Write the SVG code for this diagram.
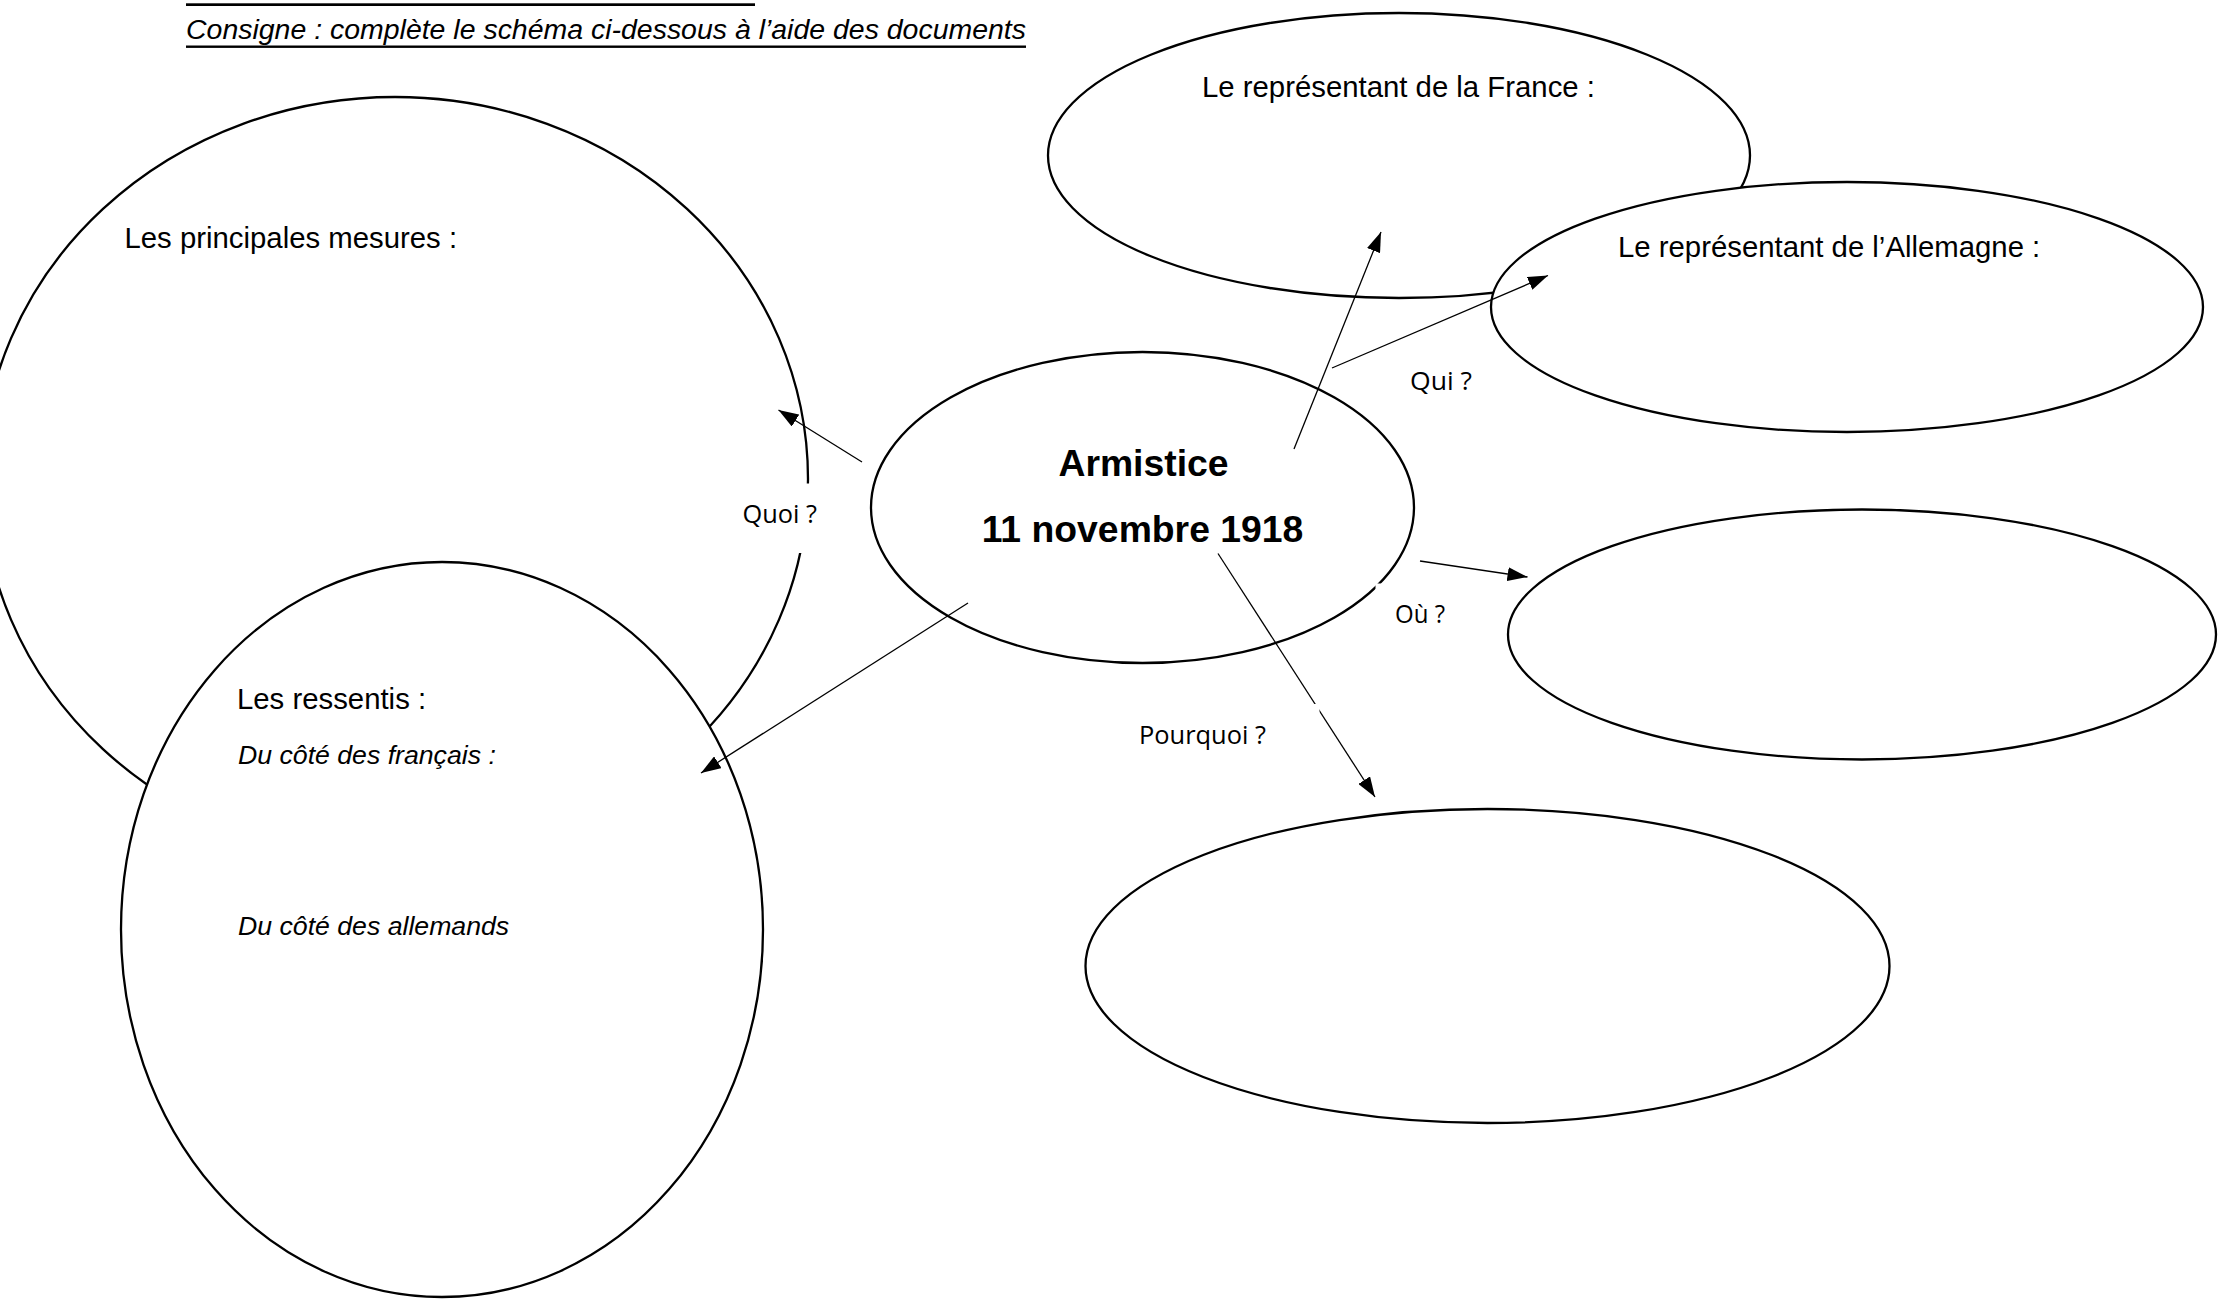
<svg xmlns="http://www.w3.org/2000/svg" width="2218" height="1299" viewBox="0 0 2218 1299">
<defs>
<style>
.node{fill:#fff;stroke:#000;stroke-width:2.3}
.t{font-family:"Liberation Sans",Arial,sans-serif;font-size:29.33px;fill:#000}
.ti{font-family:"Liberation Sans",Arial,sans-serif;font-size:26.67px;font-style:italic;fill:#000}
.tb{font-family:"Liberation Sans",Arial,sans-serif;font-size:37.33px;font-weight:bold;fill:#000}
.lab{font-family:"Open Sans","Noto Sans",sans-serif;font-size:25px;fill:#000}
.con{stroke:#000;stroke-width:1.3;fill:none;marker-end:url(#arr)}
.bg{fill:#fff;stroke:none}
</style>
<marker id="arr" viewBox="0 0 20 14" refX="20" refY="7" markerWidth="20" markerHeight="14" orient="auto" markerUnits="userSpaceOnUse">
<path d="M0,0 L20,7 L0,14 z" fill="#000"/>
</marker>
</defs>
<rect width="2218" height="1299" fill="#fff"/>
<g id="title">
<rect x="186" y="3.3" width="569" height="2.7" fill="#000"/>
<text x="186" y="38.5" font-family="Liberation Sans,Arial,sans-serif" font-size="27" font-style="italic" textLength="840" lengthAdjust="spacingAndGlyphs">Consigne : complète le schéma ci-dessous à l’aide des documents</text>
<rect x="186" y="45.5" width="840" height="2.4" fill="#000"/>
</g>
<g id="node-mesures">
<ellipse class="node" cx="395" cy="479" rx="413" ry="382"/>
<text class="t" x="124.5" y="248">Les principales mesures :</text>
</g>
<g id="node-ressentis">
<ellipse class="node" cx="442" cy="929.5" rx="321" ry="367.5"/>
<text class="t" x="237" y="709">Les ressentis :</text>
<text class="ti" x="238" y="763.5">Du côté des français :</text>
<text class="ti" x="238" y="934.5">Du côté des allemands</text>
</g>
<g id="node-france">
<ellipse class="node" cx="1399" cy="155.5" rx="351" ry="142.5"/>
<text class="t" x="1202" y="96.8">Le représentant de la France :</text>
</g>
<g id="node-allemagne">
<ellipse class="node" cx="1847" cy="307" rx="356" ry="125"/>
<text class="t" x="1618" y="256.5">Le représentant de l’Allemagne :</text>
</g>
<g id="node-ou">
<ellipse class="node" cx="1862" cy="634.5" rx="354" ry="125"/>
</g>
<g id="node-pourquoi">
<ellipse class="node" cx="1487.5" cy="966" rx="402" ry="157"/>
</g>
<g id="node-armistice">
<ellipse class="node" cx="1142.5" cy="507.5" rx="271.5" ry="155.5"/>
<text class="tb" x="1143.5" y="475.5" text-anchor="middle">Armistice</text>
<text class="tb" x="1142.5" y="542" text-anchor="middle">11 novembre 1918</text>
</g>
<g id="connectors">
<line class="con" x1="862" y1="462" x2="778.5" y2="410"/>
<line class="con" x1="968" y1="603" x2="701" y2="773"/>
<line class="con" x1="1294" y1="449" x2="1381" y2="232"/>
<line class="con" x1="1332" y1="368" x2="1548" y2="275.5"/>
<line class="con" x1="1420" y1="561" x2="1527.5" y2="577"/>
<line class="con" x1="1218" y1="553.5" x2="1375" y2="797"/>
<rect class="bg" x="735" y="483.5" width="90" height="69.5"/>
<text class="lab" x="742.5" y="523.3" textLength="74.5" lengthAdjust="spacingAndGlyphs">Quoi ?</text>
<text class="lab" x="1410" y="389.5" textLength="62" lengthAdjust="spacingAndGlyphs">Qui ?</text>
<rect class="bg" x="1375.5" y="583.5" width="85" height="57"/>
<text class="lab" x="1395" y="622.7" textLength="50" lengthAdjust="spacingAndGlyphs">Où ?</text>
<rect class="bg" x="1125" y="704" width="194.5" height="62"/>
<text class="lab" x="1139" y="743.5" textLength="127" lengthAdjust="spacingAndGlyphs">Pourquoi ?</text>
</g>
</svg>
